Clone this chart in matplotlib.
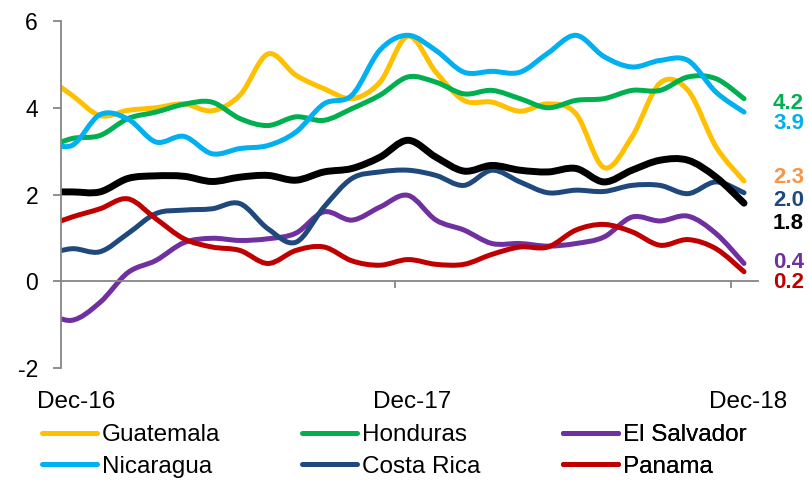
import matplotlib
matplotlib.use("Agg")
import matplotlib.pyplot as plt
import numpy as np
from matplotlib.path import Path
from matplotlib.patches import PathPatch
from matplotlib.lines import Line2D

plt.rcParams['font.family'] = ['Liberation Sans', 'DejaVu Sans']
plt.rcParams['axes.unicode_minus'] = False

# monthly, Nov-16 .. Dec-18 (Nov-16 is cut off by the axis)
months = np.arange(-1, 25)

guatemala = [4.75, 4.29, 3.82, 3.94, 4.00, 4.09, 3.93, 4.29, 5.24, 4.75, 4.44, 4.21, 4.59,
             5.65, 4.82, 4.17, 4.13, 3.92, 4.09, 3.86, 2.62, 3.33, 4.57, 4.40, 3.10, 2.31]
honduras = [3.05, 3.29, 3.36, 3.75, 3.90, 4.08, 4.13, 3.75, 3.59, 3.79, 3.71, 3.98, 4.29,
            4.71, 4.59, 4.32, 4.40, 4.21, 4.00, 4.17, 4.21, 4.40, 4.40, 4.71, 4.67, 4.21]
el_salvador = [-0.70, -0.90, -0.49, 0.20, 0.48, 0.89, 0.99, 0.94, 0.98, 1.11, 1.60, 1.41, 1.71,
               1.98, 1.41, 1.18, 0.87, 0.87, 0.81, 0.87, 1.02, 1.48, 1.39, 1.50, 1.10, 0.41]
nicaragua = [3.25, 3.13, 3.84, 3.74, 3.21, 3.34, 2.94, 3.06, 3.13, 3.44, 4.09, 4.29, 5.33,
             5.67, 5.32, 4.82, 4.84, 4.82, 5.26, 5.67, 5.18, 4.94, 5.09, 5.09, 4.36, 3.90]
costa_rica = [0.60, 0.75, 0.68, 1.10, 1.56, 1.64, 1.67, 1.79, 1.21, 0.90, 1.71, 2.37, 2.52,
              2.56, 2.44, 2.21, 2.56, 2.29, 2.04, 2.10, 2.07, 2.21, 2.21, 2.02, 2.29, 2.04]
panama = [1.25, 1.48, 1.67, 1.90, 1.44, 0.98, 0.79, 0.71, 0.41, 0.71, 0.79, 0.47, 0.37,
          0.50, 0.39, 0.39, 0.62, 0.79, 0.79, 1.18, 1.31, 1.14, 0.83, 0.96, 0.75, 0.22]
central_america = [2.06, 2.06, 2.06, 2.37, 2.43, 2.42, 2.30, 2.40, 2.44, 2.33, 2.52, 2.60, 2.86,
                   3.25, 2.86, 2.54, 2.67, 2.56, 2.52, 2.60, 2.29, 2.56, 2.79, 2.79, 2.40, 1.80]

tick_labels = ['Dec-16', 'Dec-17', 'Dec-18']


def smooth_path(x, y):
    # excel-like smoothed line: catmull-rom as cubic bezier
    x = np.asarray(x, float)
    y = np.asarray(y, float)
    px = np.concatenate([[x[0]], x, [x[-1]]])
    py = np.concatenate([[y[0]], y, [y[-1]]])
    verts = [(x[0], y[0])]
    codes = [Path.MOVETO]
    for i in range(1, len(px) - 2):
        c1 = (px[i] + (px[i + 1] - px[i - 1]) / 6, py[i] + (py[i + 1] - py[i - 1]) / 6)
        c2 = (px[i + 1] - (px[i + 2] - px[i]) / 6, py[i + 1] - (py[i + 2] - py[i]) / 6)
        verts += [c1, c2, (px[i + 1], py[i + 1])]
        codes += [Path.CURVE4] * 3
    return Path(verts, codes)


series = [
    ('Guatemala', guatemala, '#FFC000', 3.6),
    ('Honduras', honduras, '#00B050', 3.6),
    ('El Salvador', el_salvador, '#7030A0', 3.6),
    ('Nicaragua', nicaragua, '#00B0F0', 3.6),
    ('Costa Rica', costa_rica, '#1F497D', 3.6),
    ('Panama', panama, '#C00000', 3.6),
    (None, central_america, 'black', 5.0),
]

fig = plt.figure(figsize=(8.09, 4.8), dpi=100)
ax = fig.add_axes([61 / 809, 1 - 368 / 480, 697 / 809, 347 / 480])

for name, vals, col, lw in series:
    patch = PathPatch(smooth_path(months, vals), facecolor='none', edgecolor=col,
                      lw=lw, capstyle='round', joinstyle='round')
    ax.add_patch(patch)

ax.set_xlim(-0.39, 24.5)
ax.set_ylim(-2, 6)

grey = '#868686'
for s in ['top', 'right']:
    ax.spines[s].set_visible(False)
ax.spines['left'].set_color(grey)
ax.spines['left'].set_linewidth(1.3)
ax.spines['bottom'].set_color(grey)
ax.spines['bottom'].set_linewidth(1.3)
ax.spines['bottom'].set_position(('data', 0))

ax.set_yticks([-2, 0, 2, 4, 6])
ax.tick_params(axis='y', direction='out', length=6, width=1.3, color=grey,
               labelsize=16.5, pad=10.5)
ax.set_xticks([11.55, 23.55])
ax.set_xticklabels([])
ax.tick_params(axis='x', direction='out', length=5, width=1.3, color=grey)

for i, lab in enumerate(tick_labels):
    ax.text(i * 12 + 0.15, -0.066, lab, transform=ax.get_xaxis_transform(),
            ha='center', va='top', fontsize=17.5)

# end-of-line value labels
label_cols = {'Guatemala': '#F79646'}
label_y = [2.40, 4.10, 0.44, 3.64, 1.87, -0.02, 1.34]
for (name, vals, col, lw), ly in zip(series, label_y):
    ax.text(25.04, ly, f'{vals[-1]:.1f}', color=label_cols.get(name, col),
            fontsize=16, fontweight='bold', va='center', ha='left', clip_on=False)

# legend: three columns, row-wise order as in the original
cols = [(0, 3), (1, 4), (2, 5)]
col_x = [42 / 809, 302 / 809, 563 / 809]
for (a, b), cx in zip(cols, col_x):
    hs = [Line2D([], [], color=series[j][2], lw=3.6, solid_capstyle='round') for j in (a, b)]
    leg = ax.legend(hs, [series[a][0], series[b][0]], loc='upper left',
                    bbox_to_anchor=(cx, 1 - 424 / 480), bbox_transform=fig.transFigure,
                    frameon=False, fontsize=17.5, borderpad=0, borderaxespad=0,
                    handlelength=2.25, handletextpad=0.2, labelspacing=0.4)
    ax.add_artist(leg)

fig.savefig('out.png', dpi=100)
